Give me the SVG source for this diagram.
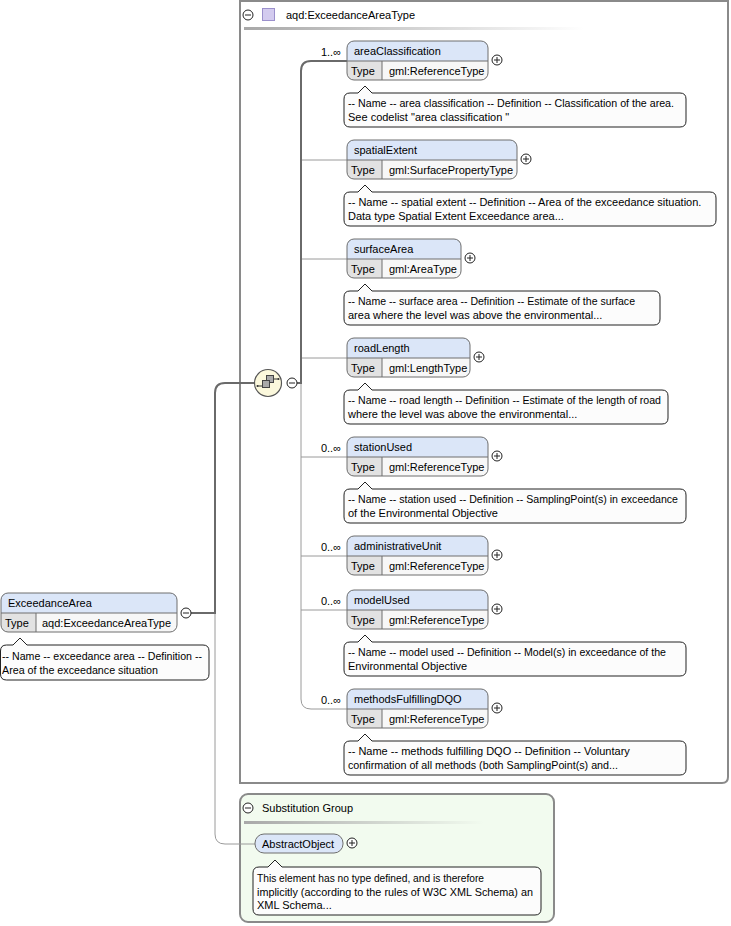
<svg xmlns="http://www.w3.org/2000/svg" xmlns:xlink="http://www.w3.org/1999/xlink" width="731" height="926" viewBox="0 0 731 926">
<style>
text{font-family:"Liberation Sans",Arial,sans-serif;font-size:11px;fill:#000}
.hdr{fill:#dbe6f8}
.trow{fill:#f7f7f7}
.tcell{fill:#e2e2e2}
.outl{fill:none;stroke:#6e6e6e;stroke-width:1}
.div{stroke:#6e6e6e;stroke-width:1}
.doc{fill:#fcfcfc;stroke:#222;stroke-width:1}
.thick{fill:none;stroke:#6a6a6a;stroke-width:2}
.thin{fill:none;stroke:#9a9a9a;stroke-width:1}
.pm{fill:#fff;stroke:#222;stroke-width:1}
</style>
<defs>
<linearGradient id="sep" x1="0" x2="1" y1="0" y2="0">
<stop offset="0" stop-color="#a8a8a8"/>
<stop offset="1" stop-color="#a8a8a8" stop-opacity="0"/>
</linearGradient>
<g id="plus"><circle class="pm" cx="0" cy="0" r="5"/><path d="M-3,0H3M0,-3V3" stroke="#222" stroke-width="1"/></g>
<g id="minus"><circle class="pm" cx="0" cy="0" r="5"/><path d="M-3,0H3" stroke="#222" stroke-width="1"/></g>
</defs>

<!-- complex type box -->
<g id="type-box">
<path d="M240,1 H728 V777 Q728,783 722,783 H240 Z" fill="#fff" stroke="#8a8a8a" stroke-width="2"/>
<use xlink:href="#minus" x="248" y="15"/>
<rect x="262.5" y="8.5" width="12" height="12" fill="#d3cbef" stroke="#9b90cc"/>
<text x="286" y="19">aqd:ExceedanceAreaType</text>
<rect x="244" y="27" width="340" height="3" fill="url(#sep)"/>
</g>

<!-- substitution group box -->
<g id="subst-box">
<rect x="240" y="794" width="314" height="128" rx="8" fill="#f2fbef" stroke="#8a8a8a" stroke-width="2"/>
<use xlink:href="#minus" x="248" y="808"/>
<text x="262" y="812">Substitution Group</text>
<rect x="244" y="821" width="240" height="3" fill="url(#sep)"/>
</g>

<!-- connectors -->
<g id="connectors">
<path class="thin" d="M215,613 V834 Q215,844 225,844 H255"/>
<path class="thick" d="M191,613 H215 V393 Q215,383 225,383 H255"/>
<path class="thin" d="M301,383 V699 Q301,709 311,709 H347"/>
<path class="thin" d="M301,160 H347 M301,259 H347 M301,358 H347 M301,457 H347 M301,556 H347 M301,610 H347"/>
<path class="thick" d="M297,383 H301 V71 Q301,61 311,61 H347"/>
<text x="341" y="56" text-anchor="end">1..∞</text>
<text x="341" y="452" text-anchor="end">0..∞</text>
<text x="341" y="551" text-anchor="end">0..∞</text>
<text x="341" y="605" text-anchor="end">0..∞</text>
<text x="341" y="704" text-anchor="end">0..∞</text>
</g>

<!-- sequence compositor -->
<g id="sequence">
<circle cx="268" cy="383" r="13.5" fill="#fbf8dc" stroke="#555" stroke-width="1.2"/>
<path d="M257,386 H262 M273,379 H279" stroke="#333" stroke-width="1"/>
<circle cx="257.5" cy="386" r="1" fill="#333"/>
<circle cx="278.5" cy="379" r="1" fill="#333"/>
<rect x="266.5" y="375.5" width="7" height="7" fill="#a9a9a9" stroke="#444"/>
<rect x="262.5" y="380.5" width="7" height="7" fill="#a9a9a9" stroke="#444"/>
<use xlink:href="#minus" x="292" y="383"/>
</g>

<!-- root element -->
<g id="ExceedanceArea">
<path class="hdr" d="M1,613 V600 Q1,593 8,593 H170 Q177,593 177,600 V613 Z"/>
<path class="trow" d="M1,613 H177 V625 Q177,632 170,632 H8 Q1,632 1,625 Z"/>
<path class="tcell" d="M1,613 H36 V632 H8 Q1,632 1,625 Z"/>
<rect class="outl" x="1" y="593" width="176" height="39" rx="7"/>
<path class="div" d="M1,613 H177 M36,613 V632"/>
<text x="8" y="607">ExceedanceArea</text>
<text x="5" y="627">Type</text>
<text x="42" y="627">aqd:ExceedanceAreaType</text>
<use xlink:href="#minus" x="186" y="613"/>
<path class="doc" d="M6.5,645 H13 L20,638 L27,645 H203 Q209,645 209,651 V674 Q209,680 203,680 H6.5 Q0.5,680 0.5,674 V651 Q0.5,645 6.5,645 Z"/>
<text x="2" y="660" textLength="200" lengthAdjust="spacingAndGlyphs">-- Name -- exceedance area -- Definition --</text>
<text x="2" y="674" textLength="156" lengthAdjust="spacingAndGlyphs">Area of the exceedance situation</text>
</g>

<!-- areaClassification -->
<g id="areaClassification">
<path class="hdr" d="M347,61 V48 Q347,41 354,41 H481 Q488,41 488,48 V61 Z"/>
<path class="trow" d="M347,61 H488 V73 Q488,80 481,80 H354 Q347,80 347,73 Z"/>
<path class="tcell" d="M347,61 H382 V80 H354 Q347,80 347,73 Z"/>
<rect class="outl" x="347" y="41" width="141" height="39" rx="7"/>
<path class="div" d="M347,61 H488 M382,61 V80"/>
<text x="354" y="55">areaClassification</text>
<text x="351" y="75">Type</text>
<text x="389" y="75">gml:ReferenceType</text>
<use xlink:href="#plus" x="497" y="60"/>
<path class="doc" d="M350,93 H358 L365,86 L372,93 H680 Q686,93 686,99 V121 Q686,127 680,127 H350 Q344,127 344,121 V99 Q344,93 350,93 Z"/>
<text x="348" y="107" textLength="326" lengthAdjust="spacingAndGlyphs">-- Name -- area classification -- Definition -- Classification of the area.</text>
<text x="348" y="121">See codelist "area classification "</text>
</g>

<!-- spatialExtent -->
<g id="spatialExtent">
<path class="hdr" d="M347,160 V147 Q347,140 354,140 H510 Q517,140 517,147 V160 Z"/>
<path class="trow" d="M347,160 H517 V172 Q517,179 510,179 H354 Q347,179 347,172 Z"/>
<path class="tcell" d="M347,160 H382 V179 H354 Q347,179 347,172 Z"/>
<rect class="outl" x="347" y="140" width="170" height="39" rx="7"/>
<path class="div" d="M347,160 H517 M382,160 V179"/>
<text x="354" y="154">spatialExtent</text>
<text x="351" y="174">Type</text>
<text x="389" y="174">gml:SurfacePropertyType</text>
<use xlink:href="#plus" x="526" y="159"/>
<path class="doc" d="M350,192 H358 L365,185 L372,192 H710 Q716,192 716,198 V220 Q716,226 710,226 H350 Q344,226 344,220 V198 Q344,192 350,192 Z"/>
<text x="348" y="206">-- Name -- spatial extent -- Definition -- Area of the exceedance situation.</text>
<text x="348" y="220">Data type Spatial Extent Exceedance area...</text>
</g>

<!-- surfaceArea -->
<g id="surfaceArea">
<path class="hdr" d="M347,259 V246 Q347,239 354,239 H454 Q461,239 461,246 V259 Z"/>
<path class="trow" d="M347,259 H461 V271 Q461,278 454,278 H354 Q347,278 347,271 Z"/>
<path class="tcell" d="M347,259 H382 V278 H354 Q347,278 347,271 Z"/>
<rect class="outl" x="347" y="239" width="114" height="39" rx="7"/>
<path class="div" d="M347,259 H461 M382,259 V278"/>
<text x="354" y="253">surfaceArea</text>
<text x="351" y="273">Type</text>
<text x="389" y="273">gml:AreaType</text>
<use xlink:href="#plus" x="470" y="258"/>
<path class="doc" d="M350,291 H358 L365,284 L372,291 H654 Q660,291 660,297 V319 Q660,325 654,325 H350 Q344,325 344,319 V297 Q344,291 350,291 Z"/>
<text x="348" y="305" textLength="287" lengthAdjust="spacingAndGlyphs">-- Name -- surface area -- Definition -- Estimate of the surface</text>
<text x="348" y="319">area where the level was above the environmental...</text>
</g>

<!-- roadLength -->
<g id="roadLength">
<path class="hdr" d="M347,358 V345 Q347,338 354,338 H463 Q470,338 470,345 V358 Z"/>
<path class="trow" d="M347,358 H470 V370 Q470,377 463,377 H354 Q347,377 347,370 Z"/>
<path class="tcell" d="M347,358 H382 V377 H354 Q347,377 347,370 Z"/>
<rect class="outl" x="347" y="338" width="123" height="39" rx="7"/>
<path class="div" d="M347,358 H470 M382,358 V377"/>
<text x="354" y="352">roadLength</text>
<text x="351" y="372">Type</text>
<text x="389" y="372">gml:LengthType</text>
<use xlink:href="#plus" x="479" y="357"/>
<path class="doc" d="M350,390 H358 L365,383 L372,390 H662 Q668,390 668,396 V418 Q668,424 662,424 H350 Q344,424 344,418 V396 Q344,390 350,390 Z"/>
<text x="348" y="404" textLength="313" lengthAdjust="spacingAndGlyphs">-- Name -- road length -- Definition -- Estimate of the length of road</text>
<text x="348" y="418">where the level was above the environmental...</text>
</g>

<!-- stationUsed -->
<g id="stationUsed">
<path class="hdr" d="M347,457 V444 Q347,437 354,437 H481 Q488,437 488,444 V457 Z"/>
<path class="trow" d="M347,457 H488 V469 Q488,476 481,476 H354 Q347,476 347,469 Z"/>
<path class="tcell" d="M347,457 H382 V476 H354 Q347,476 347,469 Z"/>
<rect class="outl" x="347" y="437" width="141" height="39" rx="7"/>
<path class="div" d="M347,457 H488 M382,457 V476"/>
<text x="354" y="451">stationUsed</text>
<text x="351" y="471">Type</text>
<text x="389" y="471">gml:ReferenceType</text>
<use xlink:href="#plus" x="497" y="456"/>
<path class="doc" d="M350,489 H358 L365,482 L372,489 H680 Q686,489 686,495 V517 Q686,523 680,523 H350 Q344,523 344,517 V495 Q344,489 350,489 Z"/>
<text x="348" y="503" textLength="330" lengthAdjust="spacingAndGlyphs">-- Name -- station used -- Definition -- SamplingPoint(s) in exceedance</text>
<text x="348" y="517">of the Environmental Objective</text>
</g>

<!-- administrativeUnit -->
<g id="administrativeUnit">
<path class="hdr" d="M347,556 V543 Q347,536 354,536 H481 Q488,536 488,543 V556 Z"/>
<path class="trow" d="M347,556 H488 V568 Q488,575 481,575 H354 Q347,575 347,568 Z"/>
<path class="tcell" d="M347,556 H382 V575 H354 Q347,575 347,568 Z"/>
<rect class="outl" x="347" y="536" width="141" height="39" rx="7"/>
<path class="div" d="M347,556 H488 M382,556 V575"/>
<text x="354" y="550">administrativeUnit</text>
<text x="351" y="570">Type</text>
<text x="389" y="570">gml:ReferenceType</text>
<use xlink:href="#plus" x="497" y="555"/>
</g>

<!-- modelUsed -->
<g id="modelUsed">
<path class="hdr" d="M347,610 V597 Q347,590 354,590 H481 Q488,590 488,597 V610 Z"/>
<path class="trow" d="M347,610 H488 V622 Q488,629 481,629 H354 Q347,629 347,622 Z"/>
<path class="tcell" d="M347,610 H382 V629 H354 Q347,629 347,622 Z"/>
<rect class="outl" x="347" y="590" width="141" height="39" rx="7"/>
<path class="div" d="M347,610 H488 M382,610 V629"/>
<text x="354" y="604">modelUsed</text>
<text x="351" y="624">Type</text>
<text x="389" y="624">gml:ReferenceType</text>
<use xlink:href="#plus" x="497" y="609"/>
<path class="doc" d="M350,642 H358 L365,635 L372,642 H680 Q686,642 686,648 V670 Q686,676 680,676 H350 Q344,676 344,670 V648 Q344,642 350,642 Z"/>
<text x="348" y="656" textLength="318" lengthAdjust="spacingAndGlyphs">-- Name -- model used -- Definition -- Model(s) in exceedance of the</text>
<text x="348" y="670">Environmental Objective</text>
</g>

<!-- methodsFulfillingDQO -->
<g id="methodsFulfillingDQO">
<path class="hdr" d="M347,709 V696 Q347,689 354,689 H481 Q488,689 488,696 V709 Z"/>
<path class="trow" d="M347,709 H488 V721 Q488,728 481,728 H354 Q347,728 347,721 Z"/>
<path class="tcell" d="M347,709 H382 V728 H354 Q347,728 347,721 Z"/>
<rect class="outl" x="347" y="689" width="141" height="39" rx="7"/>
<path class="div" d="M347,709 H488 M382,709 V728"/>
<text x="354" y="703">methodsFulfillingDQO</text>
<text x="351" y="723">Type</text>
<text x="389" y="723">gml:ReferenceType</text>
<use xlink:href="#plus" x="497" y="708"/>
<path class="doc" d="M350,741 H358 L365,734 L372,741 H680 Q686,741 686,747 V769 Q686,775 680,775 H350 Q344,775 344,769 V747 Q344,741 350,741 Z"/>
<text x="348" y="755">-- Name -- methods fulfilling DQO -- Definition -- Voluntary</text>
<text x="348" y="769" textLength="270" lengthAdjust="spacingAndGlyphs">confirmation of all methods (both SamplingPoint(s) and...</text>
</g>

<!-- AbstractObject -->
<g id="AbstractObject">
<rect x="255" y="834" width="88" height="19" rx="9" class="hdr" stroke="#6e6e6e" stroke-width="1"/>
<text x="262" y="848">AbstractObject</text>
<use xlink:href="#plus" x="352" y="843"/>
<path class="doc" d="M259,867 H268 L275,860 L282,867 H535 Q541,867 541,873 V909 Q541,915 535,915 H259 Q253,915 253,909 V873 Q253,867 259,867 Z"/>
<text x="257" y="882" textLength="227" lengthAdjust="spacingAndGlyphs">This element has no type defined, and is therefore</text>
<text x="257" y="896" textLength="276" lengthAdjust="spacingAndGlyphs">implicitly (according to the rules of W3C XML Schema) an</text>
<text x="257" y="909">XML Schema...</text>
</g>
</svg>
